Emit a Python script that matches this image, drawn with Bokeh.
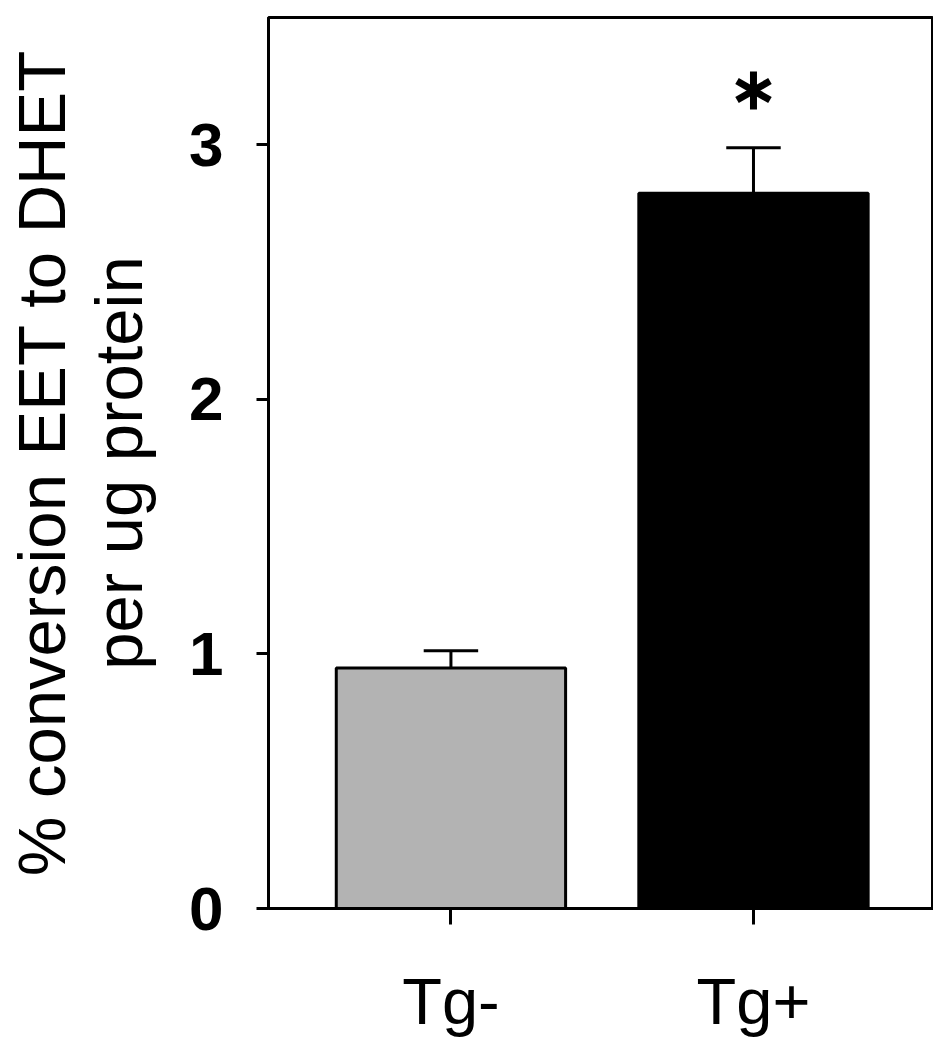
from bokeh.plotting import figure
from bokeh.models import Range1d, FixedTicker, ColumnDataSource, LinearAxis
from bokeh.embed import file_html
from bokeh.resources import INLINE

# data
categories = ["Tg-", "Tg+"]
means = [0.945, 2.81]
errors = [0.067, 0.178]
bar_colors = ["#b3b3b3", "#000000"]
significant = [False, True]
y_ticks = [0, 1, 2, 3]
y_label_lines = ["% conversion EET to DHET", "per ug protein"]

BAR_W = 0.758
CAP_W = 0.18
STAR_GAP = 0.225

xs = list(range(1, len(categories) + 1))
uppers = [m + e for m, e in zip(means, errors)]
src = ColumnDataSource(dict(
    x=xs, top=means, upper=uppers, color=bar_colors,
    cx0=[x - CAP_W / 2 for x in xs], cx1=[x + CAP_W / 2 for x in xs],
))
star_x, star_y = [], []
for x, u, s in zip(xs, uppers, significant):
    if s:
        star_x.append(x)
        star_y.append(u + STAR_GAP)
star_src = ColumnDataSource(dict(x=star_x, y=star_y))

FONT = "Liberation Sans"

p = figure(width=933, height=1040, output_backend="svg",
           toolbar_location=None, x_range=Range1d(0.397, 2.595),
           y_range=Range1d(0, 3.5), min_border_left=260, min_border_top=17,
           min_border_right=0, min_border_bottom=130)

# error bars (one-sided, upper)
p.segment(x0="x", y0="top", x1="x", y1="upper", source=src,
          line_color="black", line_width=3)
p.segment(x0="cx0", y0="upper", x1="cx1", y1="upper", source=src,
          line_color="black", line_width=3)

p.vbar(x="x", top="top", width=BAR_W, bottom=0, source=src,
       fill_color="color", line_color="black", line_width=3)

# significance asterisk
for ang in (90, 30, 150):
    p.scatter(x="x", y="y", source=star_src, marker="dash", size=38,
              angle=ang, angle_units="deg", line_color="black",
              line_width=7, fill_color="black")

p.xgrid.visible = False
p.ygrid.visible = False
p.outline_line_color = "black"
p.outline_line_width = 3

# y axis
ya = p.yaxis[0]
ya.ticker = FixedTicker(ticks=y_ticks, minor_ticks=[])
ya.axis_line_width = 3
ya.major_tick_line_width = 3
ya.major_tick_out = 12
ya.major_tick_in = 0
ya.major_label_text_font = FONT
ya.major_label_text_font_style = "bold"
ya.major_label_text_font_size = "62px"
ya.major_label_text_color = "black"
ya.major_label_standoff = 33
ya.axis_label = y_label_lines[1]
ya.axis_label_text_font = FONT
ya.axis_label_text_font_style = "normal"
ya.axis_label_text_font_size = "67px"
ya.axis_label_text_color = "black"
ya.axis_label_standoff = 30

# outer label line (first line of the y-axis title)
ya2 = LinearAxis(ticker=FixedTicker(ticks=[], minor_ticks=[]),
                 axis_line_color=None, major_tick_line_color=None,
                 minor_tick_line_color=None, major_tick_out=0,
                 major_tick_in=0, minor_tick_out=0, minor_tick_in=0,
                 axis_label=y_label_lines[0], axis_label_text_font=FONT,
                 axis_label_text_font_style="normal",
                 axis_label_text_font_size="67px",
                 axis_label_text_color="black", axis_label_standoff=0)
p.add_layout(ya2, "left")

# x axis
xa = p.xaxis[0]
xa.ticker = FixedTicker(ticks=xs, minor_ticks=[])
xa.major_label_overrides = {x: c for x, c in zip(xs, categories)}
xa.axis_line_width = 3
xa.major_tick_line_width = 3
xa.major_tick_out = 16
xa.major_tick_in = 0
xa.major_label_text_font = FONT
xa.major_label_text_font_size = "65px"
xa.major_label_text_color = "black"
xa.major_label_standoff = 40

open("out.html", "w").write(file_html(p, INLINE))
